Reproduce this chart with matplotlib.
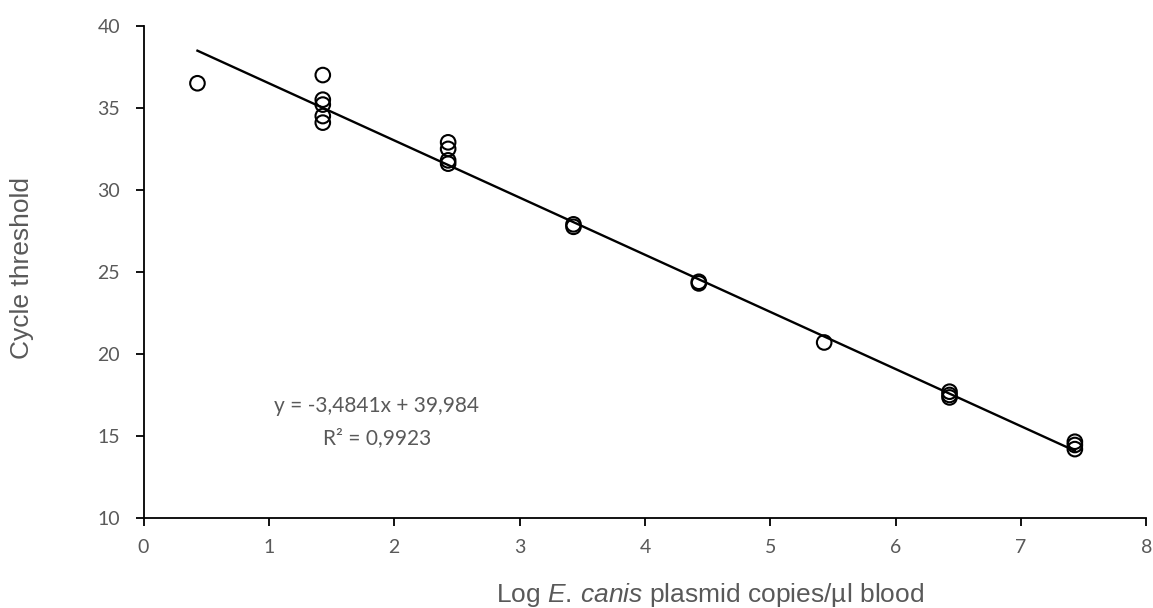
import numpy as np
import matplotlib
matplotlib.use('Agg')
import matplotlib.pyplot as plt

######################
## data
######################

log_copies = [0.43,
              1.43, 1.43, 1.43, 1.43, 1.43,
              2.43, 2.43, 2.43, 2.43,
              3.43, 3.43,
              4.43, 4.43,
              5.43,
              6.43, 6.43, 6.43,
              7.43, 7.43, 7.43]
ct = [36.5,
      37.0, 35.5, 35.2, 34.5, 34.1,
      32.9, 32.5, 31.8, 31.6,
      27.9, 27.75,
      24.4, 24.3,
      20.7,
      17.7, 17.5, 17.35,
      14.65, 14.45, 14.2]

slope = -3.4841
intercept = 39.984
r2 = 0.9923

######################
## plot
######################

plt.rcParams['mathtext.fontset'] = 'custom'
plt.rcParams['mathtext.rm'] = 'Liberation Sans'
plt.rcParams['mathtext.it'] = 'Liberation Sans:italic'

grey = '#595959'
fig = plt.figure(figsize=(11.53, 6.08), dpi=100)
ax = fig.add_axes([0.1245, 0.148, 0.8697, 0.8095])

xfit = np.array([min(log_copies), max(log_copies)])
ax.plot(xfit, slope * xfit + intercept, color='black', lw=1.7, zorder=2)
ax.scatter(log_copies, ct, s=110, facecolors='none', edgecolors='black',
           linewidths=1.5, zorder=3)

ax.set_xlim(0, 8)
ax.set_ylim(10, 40)
ax.set_xticks(range(0, 9))
ax.set_yticks(range(10, 41, 5))

for side in ('top', 'right'):
    ax.spines[side].set_visible(False)
for side in ('left', 'bottom'):
    ax.spines[side].set_linewidth(1.3)
ax.tick_params(direction='out', length=6, width=1.3, colors='black',
               labelcolor=grey, labelsize=14)
ax.tick_params(axis='y', pad=11)
ax.tick_params(axis='x', pad=9)
for lbl in ax.get_xticklabels() + ax.get_yticklabels():
    lbl.set_family('Lato')

ax.set_xlabel('Log $\\it{E.\\,canis}$ plasmid copies/µl blood', fontsize=19,
              color=grey, family='Liberation Sans', va='baseline')
ax.xaxis.set_label_coords(0.565, -0.1707)
ax.set_ylabel('Cycle threshold', fontsize=19, color=grey,
              family='Liberation Sans', va='center')
ax.yaxis.set_label_coords(-0.121, 0.508)

eq = 'y = {:.4f}x + {:.3f}'.format(slope, intercept).replace('.', ',')
ax.text(1.86, 16.8, eq, ha='center', va='center', fontsize=15,
        color=grey, family='Lato')
ax.text(1.86, 14.9, 'R² = {:.4f}'.format(r2).replace('.', ','), ha='center',
        va='center', fontsize=15, color=grey, family='Lato')

plt.savefig('out.png')
